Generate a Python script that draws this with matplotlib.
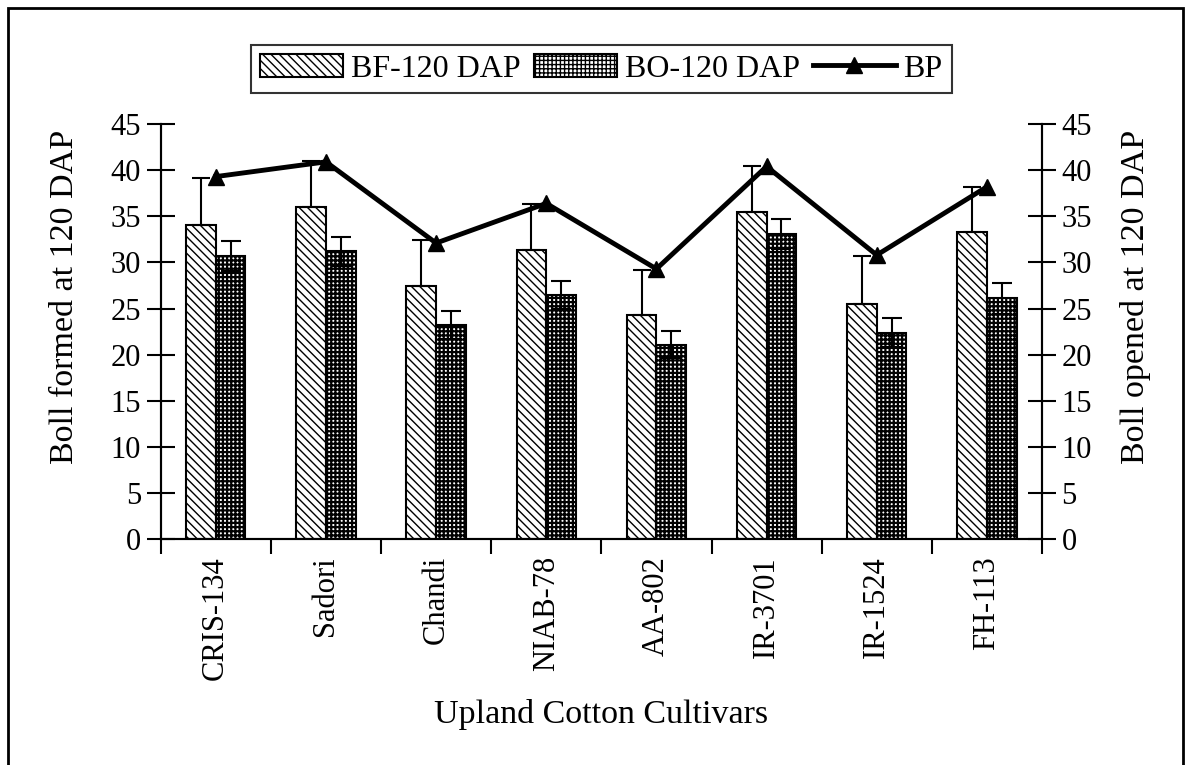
import numpy as np
import matplotlib
matplotlib.use('Agg')
import matplotlib.pyplot as plt
from matplotlib.patches import Rectangle

plt.rcParams['font.family'] = ['Liberation Serif', 'DejaVu Serif']
plt.rcParams['hatch.linewidth'] = 1.0
plt.rcParams['hatch.color'] = 'black'

cultivars = ['CRIS-134', 'Sadori', 'Chandi', 'NIAB-78', 'AA-802', 'IR-3701', 'IR-1524', 'FH-113']
bf = [34.1, 36.0, 27.4, 31.4, 24.3, 35.5, 25.5, 33.3]          # boll formed 120 DAP
bf_err = [5.0, 5.0, 5.0, 4.9, 4.9, 4.9, 5.2, 4.9]
bo = [30.7, 31.2, 23.2, 26.5, 21.1, 33.1, 22.4, 26.1]          # boll opened 120 DAP
bo_err = [1.6, 1.6, 1.5, 1.5, 1.5, 1.6, 1.6, 1.7]
bp = [39.3, 40.9, 32.1, 36.4, 29.3, 40.4, 30.8, 38.2]

fig = plt.figure(figsize=(11.91, 7.65), dpi=100)
ax = fig.add_axes([0.1349, 0.295, 0.74, 0.5429])
x = np.arange(len(cultivars))
w = 0.27

b1 = ax.bar(x - w / 2, bf, w, facecolor='white', edgecolor='black', linewidth=1.5,
            hatch='\\\\\\\\', label='BF-120 DAP')
ax.errorbar(x - w / 2, bf, yerr=[[0] * len(bf), bf_err], fmt='none', ecolor='black',
            elinewidth=1.5, capsize=6.5, capthick=1.5)
b2 = ax.bar(x + w / 2, bo, w, facecolor='white', edgecolor='black', linewidth=1.5,
            hatch='++++', label='BO-120 DAP')
for p in b2:
    try:
        p.set_hatch_linewidth(1.6)
    except AttributeError:
        pass
ax.errorbar(x + w / 2, bo, yerr=bo_err, fmt='none', ecolor='black',
            elinewidth=1.5, capsize=7.5, capthick=1.5)

ax2 = ax.twinx()
l1, = ax2.plot(x, bp, color='black', linewidth=3.5, marker='^', markersize=12, label='BP')

for a in (ax, ax2):
    a.set_ylim(0, 45)
    a.set_yticks(range(0, 46, 5))
    a.set_xlim(-0.5, 7.5)
    a.spines['top'].set_visible(False)
    for s in ('left', 'right', 'bottom'):
        a.spines[s].set_linewidth(1.5)
    a.tick_params(axis='y', direction='inout', length=20, width=1.5, labelsize=22, pad=4)

ax.set_xticks(np.arange(-0.5, 8, 1))
ax.set_xticklabels([])
ax.tick_params(axis='x', which='major', direction='out', length=11, width=1.5)
ax.set_xticks(x, minor=True)
ax.set_xticklabels(cultivars, minor=True, rotation=90, fontsize=22)
ax.tick_params(axis='x', which='minor', length=0, pad=12)

ax.set_ylabel('Boll formed at 120 DAP', fontsize=24.5, labelpad=22)
ax2.set_ylabel('Boll opened at 120 DAP', fontsize=24.5, labelpad=20)
ax.yaxis.label.set_y(0.583)
ax2.yaxis.label.set_y(0.583)
ax.set_xlabel('Upland Cotton Cultivars', fontsize=24.5, labelpad=14)

leg = fig.legend([b1, b2, l1], ['BF-120 DAP', 'BO-120 DAP', 'BP'], loc='center',
                 bbox_to_anchor=(0.505, 0.91), ncol=3, fontsize=23, frameon=True,
                 fancybox=False, edgecolor='black', handlelength=2.6, handleheight=0.7,
                 columnspacing=0.4, handletextpad=0.25, borderpad=0.3)
leg.get_frame().set_linewidth(1.5)

fig.patches.append(Rectangle((8 / 1191, -0.01), 1175 / 1191, 1 - 8 / 765 + 0.01,
                             transform=fig.transFigure, fill=False,
                             edgecolor='black', linewidth=2))

fig.savefig('out.png', dpi=100)
